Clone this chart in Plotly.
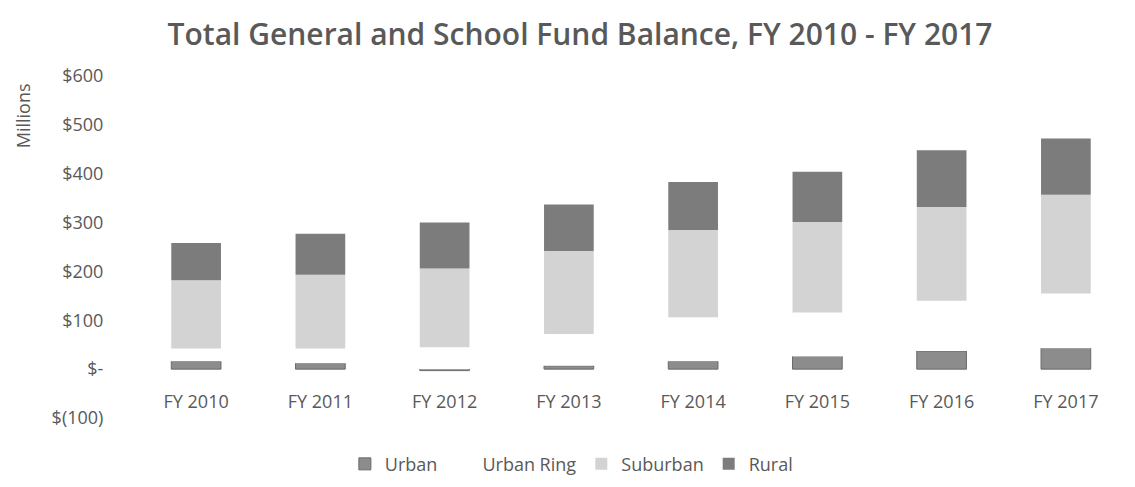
import plotly.graph_objects as go

years = ["FY 2010", "FY 2011", "FY 2012", "FY 2013", "FY 2014", "FY 2015", "FY 2016", "FY 2017"]

# $ millions
urban = [16, 12, -3, 7, 16, 26, 37, 43]
urban_ring = [26, 30, 45, 65, 90, 90, 103, 112]
suburban = [140, 151, 161, 170, 179, 185, 192, 202]
rural = [76, 84, 94, 95, 98, 103, 116, 115]

y_ticks = [-100, 0, 100, 200, 300, 400, 500, 600]
y_labels = ["$(100)", "$-", "$100", "$200", "$300", "$400", "$500", "$600"]

GREY = "#595959"
FONT = "'Open Sans', Lato, sans-serif"

fig = go.Figure()
fig.add_bar(x=years, y=urban, name="Urban",
            marker=dict(color="#8c8c8c", line=dict(color="#6a6a6a", width=1)))
fig.add_bar(x=years, y=urban_ring, name="Urban Ring",
            marker=dict(color="#ffffff", line=dict(width=0)))
fig.add_bar(x=years, y=suburban, name="Suburban",
            marker=dict(color="#d3d3d3", line=dict(width=0)))
fig.add_bar(x=years, y=rural, name="Rural",
            marker=dict(color="#7c7c7c", line=dict(width=0)))

fig.update_layout(
    width=1135,
    height=487,
    barmode="relative",
    bargap=0.6,
    paper_bgcolor="white",
    plot_bgcolor="white",
    font=dict(family=FONT, size=18, color=GREY),
    title=dict(
        text="Total General and School Fund Balance, FY 2010 - FY 2017",
        x=0.504, xanchor="center", y=0.945, yanchor="middle",
        font=dict(family=FONT, size=30, color=GREY, weight=600),
    ),
    margin=dict(l=126, r=15, t=68, b=54),
    legend=dict(
        orientation="h", x=0.44, xanchor="center", y=-0.135, yanchor="middle",
        font=dict(size=18, color=GREY), itemwidth=30, traceorder="normal",
    ),
    xaxis=dict(
        showgrid=False, showline=False, zeroline=False, ticks="",
        anchor="free", position=0.085,
        tickfont=dict(size=18, color=GREY),
    ),
    yaxis=dict(
        range=[-100, 600], tickvals=y_ticks, ticktext=y_labels,
        showgrid=False, showline=False, zeroline=False,
        ticks="outside", ticklen=26, tickcolor="rgba(0,0,0,0)",
        tickfont=dict(size=18, color=GREY),
    ),
    annotations=[
        dict(text="Millions", xref="paper", yref="paper", x=-0.112, y=0.985,
             xanchor="center", yanchor="top", textangle=-90, showarrow=False,
             font=dict(size=18, color=GREY)),
    ],
)

fig.write_html("out.html")
